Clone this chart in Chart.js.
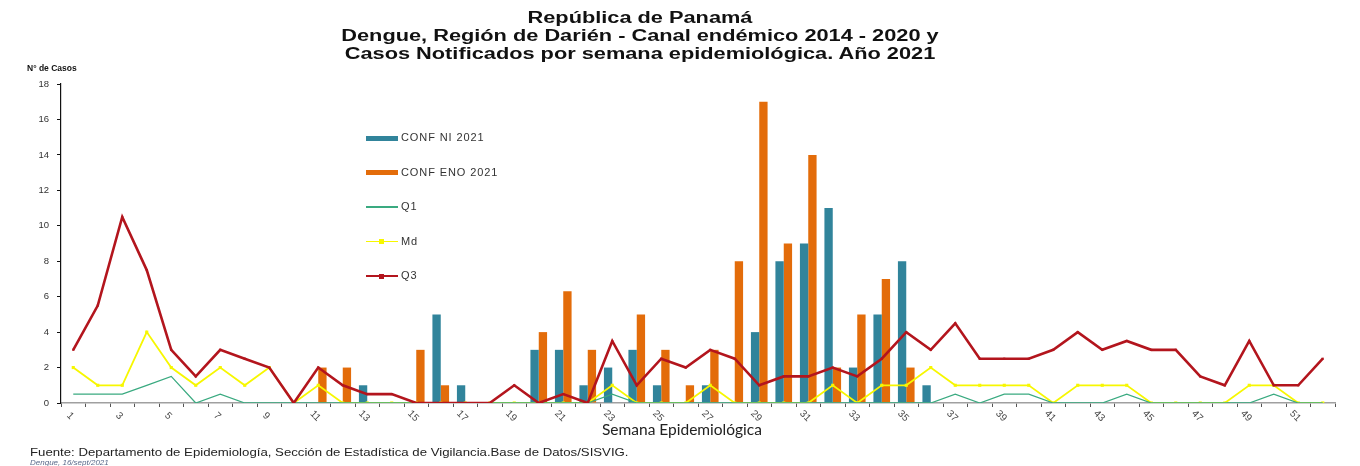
<!DOCTYPE html>
<html lang="es">
<head>
<meta charset="utf-8">
<title>Dengue Darién 2021</title>
<script src="https://cdn.jsdelivr.net/npm/chart.js@4.4.1/dist/chart.umd.min.js"></script>
<style>
    html, body { margin: 0; padding: 0; background: #fff; }
    #wrap { position: relative; width: 1360px; height: 466px; overflow: hidden; font-family: "Liberation Sans", Arial, sans-serif; }
    #chartCanvas { position: absolute; left: 0; top: 0; }
    .title { position: absolute; left: 0; top: 9px; width: 1280px; text-align: center; font-weight: bold; font-size: 16px; line-height: 18px; color: #111; transform: scaleX(1.36); transform-origin: 50% 50%; }
    .ylabel { position: absolute; left: 27px; top: 63px; font-size: 8.5px; font-weight: bold; color: #111; }
    .xtitle { position: absolute; left: 602px; top: 420px; font-family: Lato, "Open Sans", sans-serif; font-size: 15.5px; color: #222; white-space: nowrap; }
    .legend { position: absolute; left: 366px; top: 130px; }
    .legend-item { position: absolute; left: 0; height: 16px; width: 200px; font-size: 11px; letter-spacing: 0.9px; color: #333; }
    .legend-item .sym { position: absolute; left: 0; top: 8px; width: 32px; }
    .legend-item .dot { position: absolute; left: 13px; top: -1.5px; width: 5px; height: 5px; }
    .legend-item span.txt { position: absolute; left: 35px; top: 1px; white-space: nowrap; }
    .source { position: absolute; left: 30px; top: 446px; font-size: 11px; color: #222; white-space: nowrap; transform: scaleX(1.2); transform-origin: 0 50%; }
    .stamp { position: absolute; left: 30px; top: 458px; font-size: 8px; font-style: italic; color: #5b6b8c; white-space: nowrap; }
</style>
</head>
<body>
<div id="wrap">
    <canvas id="chartCanvas" width="1360" height="466"></canvas>
    <div class="title">República de Panamá<br>Dengue, Región de Darién - Canal endémico 2014 - 2020 y<br>Casos Notificados por semana epidemiológica. Año 2021</div>
    <div class="ylabel">N° de Casos</div>
    <div class="xtitle">Semana Epidemiológica</div>
    <div class="legend" id="legend"></div>
    <div class="source">Fuente: Departamento de Epidemiología, Sección de Estadística de Vigilancia.Base de Datos/SISVIG.</div>
    <div class="stamp">Dengue, 16/sept/2021</div>
</div>
<script>
// Semanas epidemiológicas
const weeks = ['1','2','3','4','5','6','7','8','9','10','11','12','13','14','15','16','17','18','19','20',
    '21','22','23','24','25','26','27','28','29','30','31','32','33','34','35','36','37','38','39','40',
    '41','42','43','44','45','46','47','48','49','50','51','52'];

// Casos 2021 (hasta semana 36)
const confNI = [0,0,0,0,0,0,0,0,0,0, 0,0,1,0,0,5,1,0,0,3, 3,1,2,3,1,0,1,0,4,8, 9,11,2,5,8,1,
    null,null,null,null,null,null,null,null,null,null,null,null,null,null,null,null];
const confENO = [0,0,0,0,0,0,0,0,0,0, 2,2,0,0,3,1,0,0,0,4, 6.3,3,0,5,3,1,3,8,17,9, 14,2,5,7,2,0,
    null,null,null,null,null,null,null,null,null,null,null,null,null,null,null,null];

// Canal endémico 2014 - 2020
const q1 = [0.5,0.5,0.5,1,1.5,0,0.5,0,0,0, 0,0,0,0,0,0,0,0,0,0, 0,0,0.5,0,0,0,0,0,0,0,
    0,0,0,0,0,0,0.5,0,0.5,0.5, 0,0,0,0.5,0,0,0,0,0,0.5, 0,0];
const md = [2,1,1,4,2,1,2,1,2,0, 1,0,0,0,0,0,0,0,0,0, 0,0,1,0,0,0,1,0,0,0,
    0,1,0,1,1,2,1,1,1,1, 0,1,1,1,0,0,0,0,1,1, 0,0];
const q3 = [3,5.5,10.5,7.5,3,1.5,3,2.5,2,0, 2,1,0.5,0.5,0,0,0,0,1,0, 0.5,0,3.5,1,2.5,2,3,2.5,1,1.5,
    1.5,2,1.5,2.5,4,3,4.5,2.5,2.5,2.5, 3,4,3,3.5,3,3,1.5,1,3.5,1, 1,2.5];

const colors = {
    ni: '#31849b',
    eno: '#e36c0a',
    q1: '#3aaa80',
    md: '#f7f700',
    q3: '#b3151d'
};

// Leyenda dentro del área del gráfico
const legendItems = [
    { label: 'CONF NI 2021', color: colors.ni, bar: true },
    { label: 'CONF ENO 2021', color: colors.eno, bar: true },
    { label: 'Q1', color: colors.q1, width: 1.5 },
    { label: 'Md', color: colors.md, width: 1.5, dot: true },
    { label: 'Q3', color: colors.q3, width: 2.5, dot: true }
];
const legendEl = document.getElementById('legend');
legendItems.forEach((item, i) => {
    const h = item.bar ? 5 : item.width;
    const dot = item.dot ? `<div class="dot" style="background:${item.color};top:${h / 2 - 2.5}px"></div>` : '';
    legendEl.innerHTML += `
        <div class="legend-item" style="top:${i * 34.5}px">
            <div class="sym" style="height:${h}px;margin-top:${-h / 2}px;background:${item.color}">${dot}</div>
            <span class="txt">${item.label}</span>
        </div>`;
});

// Etiquetas del eje X giradas en sentido horario, como en el original
const rotatedLabels = {
    id: 'rotatedLabels',
    afterDraw(chart) {
        const scale = chart.scales.x;
        const ctx = chart.ctx;
        ctx.save();
        ctx.font = '10px "Liberation Sans", Arial, sans-serif';
        ctx.fillStyle = '#444';
        ctx.textAlign = 'center';
        ctx.textBaseline = 'middle';
        weeks.forEach((w, i) => {
            if (i % 2 !== 0) return;
            const x = scale.getPixelForTick(i);
            ctx.save();
            ctx.translate(x - 3, scale.top + 13);
            ctx.rotate(Math.PI / 4);
            ctx.fillText(w, 0, 0);
            ctx.restore();
        });
        ctx.restore();
    }
};

new Chart(document.getElementById('chartCanvas'), {
    type: 'bar',
    data: {
        labels: weeks,
        datasets: [
            { label: 'CONF NI 2021', data: confNI, backgroundColor: colors.ni, order: 2 },
            { label: 'CONF ENO 2021', data: confENO, backgroundColor: colors.eno, order: 2 },
            {
                type: 'line', label: 'Q1', data: q1, borderColor: colors.q1, borderWidth: 1.3,
                pointRadius: 0, tension: 0, order: 1
            },
            {
                type: 'line', label: 'Md', data: md, borderColor: colors.md, borderWidth: 1.8,
                pointStyle: 'rect', pointRadius: 2.2, pointBackgroundColor: colors.md, pointBorderWidth: 0,
                tension: 0, order: 1
            },
            {
                type: 'line', label: 'Q3', data: q3, borderColor: colors.q3, borderWidth: 2.6,
                pointStyle: 'rect', pointRadius: 1.5, pointBackgroundColor: colors.q3, pointBorderWidth: 0,
                tension: 0, order: 0
            }
        ]
    },
    options: {
        responsive: false,
        animation: false,
        devicePixelRatio: 1,
        layout: { padding: { left: 0, right: 25, top: 84, bottom: 30 } },
        datasets: {
            bar: { barPercentage: 1, categoryPercentage: 0.68 }
        },
        plugins: {
            legend: { display: false },
            tooltip: { enabled: false }
        },
        scales: {
            x: {
                afterFit: s => { s.height = 33; },
                grid: { drawOnChartArea: false, tickLength: 4, color: '#555', offset: true },
                border: { color: '#a0a0a0', width: 1.5 },
                ticks: { autoSkip: false, maxRotation: 0, callback: () => '' }
            },
            y: {
                min: 0,
                max: 18,
                afterFit: s => { s.width = 61; },
                grid: { drawOnChartArea: false, tickLength: 4, color: '#111' },
                border: { color: '#111', width: 1.2 },
                ticks: {
                    stepSize: 2,
                    color: '#333',
                    padding: 8,
                    font: { family: '"Liberation Sans", Arial, sans-serif', size: 9.5 }
                }
            }
        }
    },
    plugins: [rotatedLabels]
});
</script>
</body>
</html>
